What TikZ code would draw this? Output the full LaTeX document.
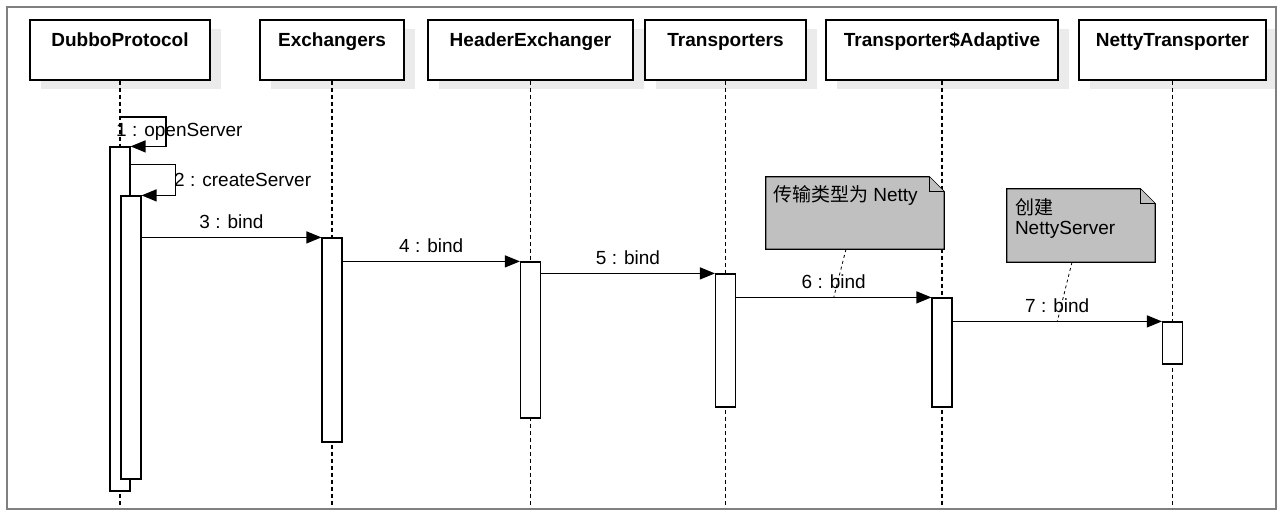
\documentclass[tikz,border=0pt]{standalone}
\usepackage{fontspec}
\setmainfont{Liberation Sans}
\newfontfamily\cjk{Noto Sans CJK SC}
\usetikzlibrary{arrows.meta,shadows}
\definecolor{notegray}{HTML}{C0C0C0}
\definecolor{framegray}{HTML}{808080}
\tikzset{
  head/.style={draw, line width=1.4pt, fill=white, minimum height=60, text height=14pt, text depth=20pt,
    font=\fontsize{19}{22}\selectfont\bfseries,
    drop shadow={fill=black!8, opacity=1, shadow xshift=11pt, shadow yshift=-9pt}},
  actbox/.style={draw, line width=1.2pt, fill=white, minimum width=20, inner sep=0pt},
  lifeline/.style={line width=1.1pt, dash pattern=on 4pt off 3pt},
  msg/.style={line width=1.3pt, -{Triangle[length=15pt,width=12pt]}},
  msglbl/.style={font=\fontsize{19}{22}\selectfont, inner sep=2pt},
  notebox/.style={inner sep=0pt},
  noteedge/.style={draw, fill=notegray, line width=1.2pt},
  notetxt/.style={font=\fontsize{19}{19.5}\selectfont, inner sep=2pt, align=left},
  notelink/.style={line width=0.8pt, dash pattern=on 3pt off 3pt}
}
\begin{document}
\begin{tikzpicture}[x=1pt, y=-1pt]
\useasboundingbox (0,0) rectangle (1280,513);
\coordinate (bottom) at (0,509);

% Objects
\node[head, minimum width=180] (dubbo) at (120,50) {DubboProtocol};
\node[head, minimum width=144] (exch) at (332,50) {Exchangers};
\node[head, minimum width=205] (hexch) at (530.5,50) {HeaderExchanger};
\node[head, minimum width=161] (trans) at (725.5,50) {Transporters};
\node[head, minimum width=232] (tadapt) at (942,50) {Transporter\$Adaptive};
\node[head, minimum width=187] (ntrans) at (1172.5,50) {NettyTransporter};

% Lifelines
\draw[lifeline] (dubbo.south) -- (dubbo.south |- bottom);
\draw[lifeline] (exch.south) -- (exch.south |- bottom);
\draw[lifeline] (hexch.south) -- (hexch.south |- bottom);
\draw[lifeline] (trans.south) -- (trans.south |- bottom);
\draw[lifeline] (tadapt.south) -- (tadapt.south |- bottom);
\draw[lifeline] (ntrans.south) -- (ntrans.south |- bottom);

% Activations
\node[actbox, minimum height=344] (dpa) at (120,319) {};
\node[actbox, minimum height=283] (dpb) at (131,337.5) {};
\node[actbox, minimum height=204] (exa) at (332,340) {};
\node[actbox, minimum height=156] (hea) at (530.5,340) {};
\node[actbox, minimum height=133] (tra) at (725.5,340.5) {};
\node[actbox, minimum height=109] (taa) at (942,352.5) {};
\node[actbox, minimum height=42] (nta) at (1172.5,343) {};

% Self calls
\coordinate (s1) at (120,117);
\draw[msg] (s1) -- ++(46,0) |- (dpa.north east);
\node[msglbl, anchor=base west] (l1) at (114,137) {1 : openServer};
\draw[msg] ([yshift=-18pt]dpa.north east) -- ++(45,0) |- (dpb.north east);
\node[msglbl, anchor=base west] (l2) at (172,187) {2 : createServer};

% Calls
\draw[msg] (dpb.east |- exa.north west) -- node[msglbl, above=6.5pt] (l3) {3 : bind} (exa.north west);
\draw[msg] (exa.east |- hea.north west) -- node[msglbl, above=6.5pt] (l4) {4 : bind} (hea.north west);
\draw[msg] (hea.east |- tra.north west) -- node[msglbl, above=6.5pt] (l5) {5 : bind} (tra.north west);
\draw[msg] (tra.east |- taa.north west) -- node[msglbl, above=6.5pt] (l6) {6 : bind} coordinate (m6) (taa.north west);
\draw[msg] (taa.east |- nta.north west) -- node[msglbl, above=6.5pt] (l7) {7 : bind} coordinate (m7) (nta.north west);

% Notes
\node[notebox, minimum width=178, minimum height=72] (n6) at (855,213) {};
\filldraw[noteedge] (n6.south west) -- (n6.north west) -- ([xshift=-15pt]n6.north east) -- ([yshift=-15pt]n6.north east) -- (n6.south east) -- cycle;
\draw[noteedge] ([xshift=-15pt]n6.north east) |- ([yshift=-15pt]n6.north east);
\node[notetxt, anchor=north west] (t6) at ([shift={(5pt,-6pt)}]n6.north west) {{\cjk 传输类型为} Netty};
\draw[notelink] ([xshift=-9pt]n6.south) -- (m6);

\node[notebox, minimum width=148, minimum height=73] (n7) at (1081,225.5) {};
\filldraw[noteedge] (n7.south west) -- (n7.north west) -- ([xshift=-15pt]n7.north east) -- ([yshift=-15pt]n7.north east) -- (n7.south east) -- cycle;
\draw[noteedge] ([xshift=-15pt]n7.north east) |- ([yshift=-15pt]n7.north east);
\node[notetxt, anchor=north west] (t7) at ([shift={(6pt,-8pt)}]n7.north west) {{\cjk 创建}\\NettyServer};
\draw[notelink] ([xshift=-9pt]n7.south) -- (m7);

% Frame
\draw[framegray, line width=2pt] (7,7) rectangle (1276,509);
\end{tikzpicture}
\end{document}
